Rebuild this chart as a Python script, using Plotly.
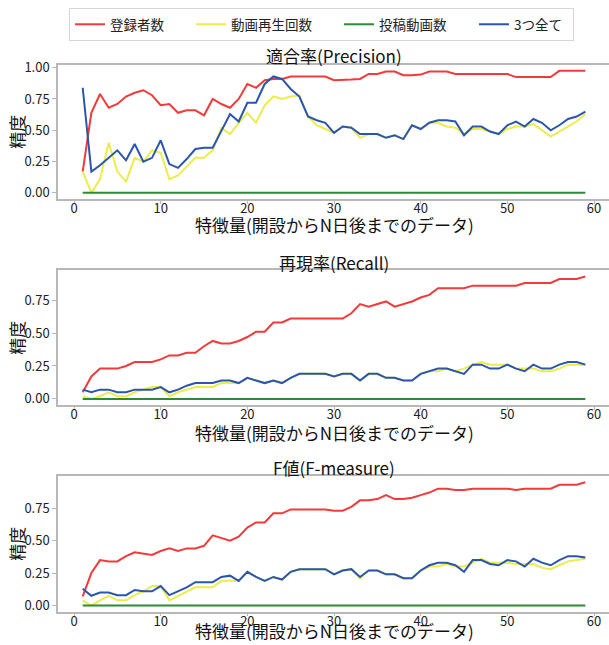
import plotly.graph_objects as go
from plotly.subplots import make_subplots

# 特徴量: 開設からN日後までのデータ (N = 1..59)
days = list(range(1, 60))

series_names = ["登録者数", "動画再生回数", "投稿動画数", "3つ全て"]
series_colors = ["#f23a3a", "#ecec4c", "#2f8a35", "#2a56ad"]

# 適合率(Precision)
prec_subs = [0.17, 0.64, 0.79, 0.68, 0.71, 0.77, 0.80, 0.82, 0.78, 0.70,
             0.71, 0.64, 0.66, 0.66, 0.62, 0.75, 0.71, 0.68, 0.75, 0.87,
             0.84, 0.90, 0.91, 0.91, 0.93, 0.93, 0.93, 0.93, 0.93, 0.90,
             0.90, 0.905, 0.91, 0.95, 0.95, 0.97, 0.97, 0.94, 0.94, 0.945,
             0.97, 0.97, 0.97, 0.95, 0.95, 0.95, 0.95, 0.95, 0.95, 0.95,
             0.925, 0.925, 0.925, 0.925, 0.925, 0.975, 0.975, 0.975, 0.975]
prec_views = [0.17, 0.00, 0.11, 0.40, 0.17, 0.09, 0.28, 0.25, 0.34, 0.32,
              0.11, 0.14, 0.21, 0.28, 0.28, 0.34, 0.52, 0.47, 0.56, 0.64,
              0.56, 0.70, 0.77, 0.75, 0.77, 0.78, 0.61, 0.54, 0.51, 0.48,
              0.53, 0.52, 0.44, 0.47, 0.47, 0.44, 0.46, 0.43, 0.54, 0.51,
              0.56, 0.56, 0.53, 0.52, 0.47, 0.51, 0.51, 0.49, 0.47, 0.51,
              0.53, 0.53, 0.55, 0.50, 0.45, 0.49, 0.53, 0.57, 0.63]
prec_posts = [0.0, 0.0, 0.0, 0.0, 0.0, 0.0, 0.0, 0.0, 0.0, 0.0,
              0.0, 0.0, 0.0, 0.0, 0.0, 0.0, 0.0, 0.0, 0.0, 0.0,
              0.0, 0.0, 0.0, 0.0, 0.0, 0.0, 0.0, 0.0, 0.0, 0.0,
              0.0, 0.0, 0.0, 0.0, 0.0, 0.0, 0.0, 0.0, 0.0, 0.0,
              0.0, 0.0, 0.0, 0.0, 0.0, 0.0, 0.0, 0.0, 0.0, 0.0,
              0.0, 0.0, 0.0, 0.0, 0.0, 0.0, 0.0, 0.0, 0.0]
prec_all = [0.84, 0.17, 0.22, 0.28, 0.34, 0.26, 0.39, 0.25, 0.28, 0.42,
            0.23, 0.20, 0.27, 0.35, 0.36, 0.36, 0.50, 0.63, 0.57, 0.72,
            0.72, 0.87, 0.93, 0.91, 0.83, 0.77, 0.61, 0.58, 0.56, 0.48,
            0.53, 0.52, 0.47, 0.47, 0.47, 0.44, 0.46, 0.43, 0.54, 0.51,
            0.56, 0.58, 0.58, 0.57, 0.46, 0.53, 0.53, 0.49, 0.47, 0.54,
            0.57, 0.53, 0.59, 0.56, 0.50, 0.54, 0.59, 0.61, 0.65]

# 再現率(Recall)
rec_subs = [0.05, 0.17, 0.23, 0.23, 0.23, 0.25, 0.28, 0.28, 0.28, 0.30,
            0.33, 0.33, 0.35, 0.35, 0.40, 0.44, 0.42, 0.42, 0.44, 0.47,
            0.51, 0.51, 0.58, 0.58, 0.61, 0.61, 0.61, 0.61, 0.61, 0.61,
            0.61, 0.65, 0.72, 0.70, 0.72, 0.74, 0.70, 0.72, 0.74, 0.77,
            0.79, 0.84, 0.84, 0.84, 0.84, 0.86, 0.86, 0.86, 0.86, 0.86,
            0.86, 0.88, 0.88, 0.88, 0.88, 0.91, 0.91, 0.91, 0.93]
rec_views = [0.02, 0.00, 0.02, 0.05, 0.02, 0.02, 0.05, 0.07, 0.09, 0.09,
             0.02, 0.05, 0.07, 0.09, 0.09, 0.09, 0.12, 0.12, 0.12, 0.16,
             0.14, 0.12, 0.14, 0.12, 0.16, 0.19, 0.19, 0.19, 0.19, 0.17,
             0.19, 0.19, 0.14, 0.19, 0.19, 0.16, 0.16, 0.14, 0.14, 0.19,
             0.21, 0.21, 0.23, 0.21, 0.23, 0.26, 0.28, 0.26, 0.26, 0.26,
             0.23, 0.23, 0.23, 0.21, 0.21, 0.23, 0.26, 0.26, 0.26]
rec_posts = [0.0, 0.0, 0.0, 0.0, 0.0, 0.0, 0.0, 0.0, 0.0, 0.0,
             0.0, 0.0, 0.0, 0.0, 0.0, 0.0, 0.0, 0.0, 0.0, 0.0,
             0.0, 0.0, 0.0, 0.0, 0.0, 0.0, 0.0, 0.0, 0.0, 0.0,
             0.0, 0.0, 0.0, 0.0, 0.0, 0.0, 0.0, 0.0, 0.0, 0.0,
             0.0, 0.0, 0.0, 0.0, 0.0, 0.0, 0.0, 0.0, 0.0, 0.0,
             0.0, 0.0, 0.0, 0.0, 0.0, 0.0, 0.0, 0.0, 0.0]
rec_all = [0.07, 0.05, 0.07, 0.07, 0.05, 0.05, 0.07, 0.07, 0.07, 0.09,
           0.05, 0.07, 0.10, 0.12, 0.12, 0.12, 0.14, 0.14, 0.12, 0.16,
           0.14, 0.12, 0.14, 0.12, 0.16, 0.19, 0.19, 0.19, 0.19, 0.17,
           0.19, 0.19, 0.14, 0.19, 0.19, 0.16, 0.16, 0.14, 0.14, 0.19,
           0.21, 0.23, 0.23, 0.21, 0.19, 0.26, 0.26, 0.23, 0.23, 0.26,
           0.23, 0.21, 0.26, 0.23, 0.23, 0.26, 0.28, 0.28, 0.26]

# F値(F-measure)
f_subs = [0.07, 0.25, 0.35, 0.34, 0.34, 0.38, 0.41, 0.40, 0.39, 0.42,
          0.44, 0.42, 0.44, 0.44, 0.46, 0.54, 0.52, 0.50, 0.53, 0.60,
          0.64, 0.64, 0.71, 0.71, 0.74, 0.74, 0.74, 0.74, 0.74, 0.73,
          0.73, 0.76, 0.81, 0.81, 0.82, 0.85, 0.82, 0.82, 0.83, 0.85,
          0.87, 0.90, 0.90, 0.89, 0.89, 0.90, 0.90, 0.90, 0.90, 0.90,
          0.89, 0.90, 0.90, 0.90, 0.90, 0.93, 0.93, 0.93, 0.95]
f_views = [0.04, 0.00, 0.04, 0.075, 0.04, 0.04, 0.08, 0.11, 0.15, 0.15,
           0.04, 0.075, 0.11, 0.14, 0.14, 0.14, 0.19, 0.19, 0.19, 0.26,
           0.22, 0.19, 0.22, 0.20, 0.26, 0.28, 0.28, 0.28, 0.28, 0.24,
           0.27, 0.28, 0.21, 0.27, 0.27, 0.24, 0.24, 0.21, 0.21, 0.27,
           0.30, 0.30, 0.32, 0.30, 0.30, 0.33, 0.36, 0.33, 0.33, 0.33,
           0.32, 0.32, 0.32, 0.29, 0.28, 0.31, 0.34, 0.35, 0.36]
f_posts = [0.0, 0.0, 0.0, 0.0, 0.0, 0.0, 0.0, 0.0, 0.0, 0.0,
           0.0, 0.0, 0.0, 0.0, 0.0, 0.0, 0.0, 0.0, 0.0, 0.0,
           0.0, 0.0, 0.0, 0.0, 0.0, 0.0, 0.0, 0.0, 0.0, 0.0,
           0.0, 0.0, 0.0, 0.0, 0.0, 0.0, 0.0, 0.0, 0.0, 0.0,
           0.0, 0.0, 0.0, 0.0, 0.0, 0.0, 0.0, 0.0, 0.0, 0.0,
           0.0, 0.0, 0.0, 0.0, 0.0, 0.0, 0.0, 0.0, 0.0]
f_all = [0.13, 0.075, 0.10, 0.10, 0.08, 0.08, 0.12, 0.11, 0.11, 0.15,
         0.08, 0.11, 0.14, 0.18, 0.18, 0.18, 0.22, 0.23, 0.19, 0.26,
         0.22, 0.19, 0.22, 0.20, 0.26, 0.28, 0.28, 0.28, 0.28, 0.24,
         0.27, 0.28, 0.22, 0.27, 0.27, 0.24, 0.24, 0.21, 0.21, 0.27,
         0.31, 0.33, 0.33, 0.31, 0.26, 0.35, 0.35, 0.32, 0.31, 0.35,
         0.34, 0.30, 0.36, 0.33, 0.31, 0.35, 0.38, 0.38, 0.37]

panel_titles = ["適合率(Precision)", "再現率(Recall)", "F値(F-measure)"]
panel_data = [
    [prec_subs, prec_views, prec_posts, prec_all],
    [rec_subs, rec_views, rec_posts, rec_all],
    [f_subs, f_views, f_posts, f_all],
]
x_title = "特徴量(開設からN日後までのデータ)"
y_title = "精度"

FONT = "Noto Sans CJK JP"
W, H = 609, 645
ML = 58
PW = W - ML

# panel placement in pixels: (top, bottom, title centre, x-title centre)
panel_px = [(64.7, 199.0, 55, 225), (270.3, 405.0, 262, 432),
            (476.0, 611.7, 467, None)]
y_ranges = [[-0.049, 1.024], [-0.0465, 0.9765], [-0.0475, 0.9975]]
y_ticks = [[0, 0.25, 0.5, 0.75, 1.0], [0, 0.25, 0.5, 0.75], [0, 0.25, 0.5, 0.75]]
legend_widths = {"登録者数": 76, "動画再生回数": 103, "投稿動画数": 90, "3つ全て": 54}

fig = make_subplots(rows=3, cols=1)

for r, data in enumerate(panel_data, start=1):
    for name, color, vals in zip(series_names, series_colors, data):
        fig.add_trace(
            go.Scatter(
                x=days, y=vals, mode="lines", name=name,
                line=dict(color=color, width=2),
                showlegend=(r == 1),
                legendwidth=legend_widths[name],
            ),
            row=r, col=1,
        )

axis_line = "#b8b8b8"
tick_font = dict(family=FONT, size=13, color="#222222")
label_font = dict(family=FONT, size=17, color="#111111")

annotations = []
for i, (top, bot, t_mid, xt_mid) in enumerate(panel_px):
    r = i + 1
    dom = [1 - bot / H, 1 - top / H]
    fig.update_yaxes(
        row=r, col=1, domain=dom, range=y_ranges[i],
        tickvals=y_ticks[i], ticktext=[f"{v:.2f}" for v in y_ticks[i]],
        showgrid=False, zeroline=False, showline=True, linecolor=axis_line,
        linewidth=1.5, ticks="outside", ticklen=4, tickcolor=axis_line,
        tickfont=tick_font, automargin=False,
    )
    fig.update_xaxes(
        row=r, col=1, range=[-1.85, 61.73],
        tickvals=[0, 10, 20, 30, 40, 50, 60],
        showgrid=False, zeroline=False, showline=True, linecolor=axis_line,
        linewidth=1.5, mirror=True, ticks="outside", ticklen=3,
        tickcolor=axis_line, tickfont=tick_font, automargin=False,
        ticklabelstandoff=-6,
    )
    annotations.append(dict(
        text=panel_titles[i], x=(334 - ML) / PW, y=1 - t_mid / H,
        xref="paper", yref="paper", xanchor="center", yanchor="middle",
        showarrow=False, font=label_font,
    ))
    if xt_mid is None:
        # lowest x-axis title sits on the bottom edge of the figure
        annotations.append(dict(
            text=x_title, x=(334 - ML) / PW, y=0,
            xref="paper", yref="paper", xanchor="center", yanchor="bottom",
            showarrow=False, font=label_font,
        ))
    else:
        annotations.append(dict(
            text=x_title, x=(334 - ML) / PW, y=1 - xt_mid / H,
            xref="paper", yref="paper", xanchor="center", yanchor="middle",
            showarrow=False, font=label_font,
        ))
    annotations.append(dict(
        text=y_title, x=(17 - ML) / PW, y=1 - ((top + bot) / 2) / H,
        xref="paper", yref="paper", xanchor="center", yanchor="middle",
        textangle=-90, showarrow=False, font=label_font,
    ))

fig.update_layout(
    width=W, height=H,
    margin=dict(l=ML, r=0, t=0, b=0),
    paper_bgcolor="white", plot_bgcolor="white",
    font=dict(family=FONT, size=13, color="#222222"),
    annotations=annotations,
    legend=dict(
        orientation="h", x=(69 - ML) / PW, y=1 - 8 / H,
        xanchor="left", yanchor="top",
        bgcolor="white", bordercolor="#d6d6d6", borderwidth=1,
        font=dict(family=FONT, size=13.5, color="#222222"),
        itemwidth=30,
    ),
)

fig.write_html("out.html")
